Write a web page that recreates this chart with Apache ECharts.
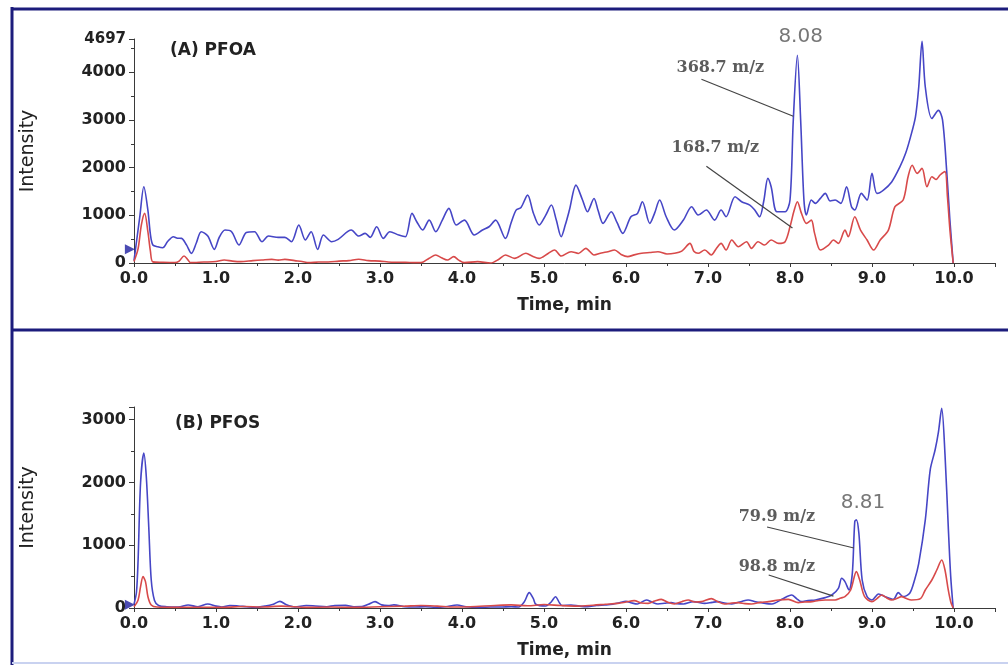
<!DOCTYPE html>
<html>
<head>
<meta charset="utf-8">
<title>PFOA / PFOS chromatograms</title>
<script src="https://cdn.jsdelivr.net/npm/echarts@6/dist/echarts.min.js"></script>
<style>
  html, body { margin: 0; padding: 0; background: #fff; }
  #chart { width: 1008px; height: 665px; }
</style>
</head>
<body>
<div id="chart"></div>
<script>
// 数据：时间 (min) 与强度

// (A) PFOA 368.7 m/z（蓝）
const pfoa3687 = [
  [0.00, 50], [0.07, 960], [0.12, 1600], [0.17, 1100], [0.20, 600], [0.23, 377], [0.29, 340],
  [0.35, 320], [0.41, 450], [0.48, 551], [0.53, 520], [0.58, 516], [0.64, 380], [0.70, 202],
  [0.76, 420], [0.82, 656], [0.90, 565], [0.98, 286], [1.04, 540], [1.11, 691], [1.19, 656],
  [1.28, 377], [1.37, 640], [1.47, 656], [1.56, 447], [1.64, 565], [1.76, 537], [1.84, 537],
  [1.92, 447], [2.01, 796], [2.09, 482], [2.16, 656], [2.24, 286], [2.31, 586], [2.41, 447],
  [2.49, 496], [2.65, 691], [2.74, 565], [2.82, 621], [2.88, 537], [2.96, 761], [3.04, 516],
  [3.12, 656], [3.23, 586], [3.31, 551], [3.39, 1040], [3.45, 860], [3.52, 691], [3.60, 900],
  [3.68, 656], [3.76, 900], [3.84, 1145], [3.93, 796], [4.03, 900], [4.15, 586], [4.25, 691],
  [4.33, 760], [4.41, 900], [4.53, 516], [4.60, 850], [4.66, 1110], [4.72, 1166], [4.80, 1424],
  [4.87, 1050], [4.94, 796], [5.02, 1000], [5.09, 1215], [5.15, 900], [5.21, 551], [5.26, 800],
  [5.31, 1110], [5.39, 1633], [5.47, 1320], [5.53, 1075], [5.61, 1354], [5.66, 1100], [5.72, 831],
  [5.82, 1075], [5.89, 850], [5.96, 621], [6.06, 970], [6.14, 1040], [6.20, 1285], [6.29, 831],
  [6.35, 1050], [6.41, 1320], [6.49, 970], [6.59, 691], [6.70, 900], [6.80, 1180], [6.88, 1005],
  [6.98, 1110], [7.08, 900], [7.16, 1110], [7.22, 970], [7.33, 1390], [7.41, 1285], [7.51, 1215],
  [7.57, 1110], [7.63, 970], [7.68, 1300], [7.73, 1775], [7.77, 1600], [7.84, 1075], [7.94, 1075],
  [8.00, 1320], [8.04, 2995], [8.09, 4355], [8.13, 2995], [8.17, 1320], [8.20, 1005], [8.26, 1320],
  [8.31, 1250], [8.37, 1355], [8.43, 1460], [8.49, 1300], [8.55, 1320], [8.62, 1250], [8.69, 1600],
  [8.75, 1180], [8.79, 1110], [8.87, 1460], [8.94, 1320], [9.00, 1880], [9.06, 1460], [9.14, 1530],
  [9.24, 1700], [9.34, 2015], [9.41, 2300], [9.47, 2645], [9.53, 3065], [9.57, 3690], [9.61, 4650],
  [9.65, 3690], [9.73, 3030], [9.81, 3200], [9.86, 3000], [9.91, 1950], [9.95, 900], [9.99, 0]
];

// (A) PFOA 168.7 m/z（红）
const pfoa1687 = [
  [0.00, 30], [0.05, 300], [0.09, 800], [0.13, 1040], [0.17, 650], [0.20, 250], [0.23, 23],
  [0.35, 15], [0.50, 10], [0.55, 40], [0.61, 146], [0.66, 60], [0.69, 7], [0.85, 20], [1.00, 30],
  [1.10, 63], [1.20, 40], [1.30, 28], [1.45, 50], [1.56, 63], [1.68, 77], [1.76, 60], [1.84, 77],
  [1.96, 49], [2.05, 30], [2.13, 7], [2.25, 20], [2.37, 21], [2.50, 40], [2.62, 50], [2.74, 80],
  [2.86, 49], [3.00, 40], [3.10, 21], [3.20, 15], [3.31, 14], [3.43, 7], [3.50, 7], [3.60, 100],
  [3.68, 168], [3.75, 110], [3.82, 63], [3.90, 133], [3.96, 60], [4.03, 7], [4.19, 28], [4.35, 0],
  [4.45, 80], [4.53, 168], [4.64, 98], [4.78, 203], [4.86, 140], [4.94, 98], [5.05, 200],
  [5.13, 272], [5.21, 147], [5.33, 237], [5.42, 200], [5.51, 307], [5.61, 168], [5.70, 210],
  [5.78, 237], [5.86, 272], [5.94, 180], [6.02, 133], [6.10, 170], [6.19, 203], [6.29, 220],
  [6.39, 237], [6.50, 190], [6.59, 203], [6.68, 250], [6.78, 412], [6.83, 240], [6.88, 203],
  [6.96, 272], [7.04, 168], [7.10, 300], [7.16, 412], [7.22, 272], [7.29, 482], [7.37, 342],
  [7.47, 447], [7.53, 307], [7.61, 447], [7.69, 377], [7.77, 482], [7.86, 412], [7.94, 447],
  [8.00, 760], [8.05, 1100], [8.09, 1285], [8.14, 1040], [8.20, 830], [8.26, 900], [8.30, 621],
  [8.37, 272], [8.47, 377], [8.53, 482], [8.59, 412], [8.67, 690], [8.71, 551], [8.79, 970],
  [8.86, 690], [8.94, 482], [9.02, 272], [9.10, 482], [9.20, 690], [9.28, 1180], [9.38, 1320],
  [9.44, 1810], [9.49, 2050], [9.55, 1880], [9.61, 1985], [9.67, 1600], [9.73, 1810], [9.78, 1750],
  [9.83, 1845], [9.89, 1915], [9.92, 1390], [9.95, 700], [9.99, 0]
];

// (B) PFOS 79.9 m/z（蓝）
const pfos799 = [
  [0.00, 60], [0.03, 250], [0.05, 765], [0.08, 1990], [0.12, 2465], [0.15, 2090], [0.18, 1290],
  [0.21, 450], [0.25, 120], [0.30, 40], [0.40, 20], [0.54, 16], [0.66, 48], [0.78, 20], [0.90, 64],
  [1.00, 30], [1.07, 16], [1.17, 40], [1.27, 32], [1.37, 20], [1.47, 10], [1.60, 30], [1.70, 60],
  [1.78, 106], [1.86, 50], [1.96, 16], [2.10, 40], [2.21, 32], [2.35, 20], [2.45, 40], [2.58, 42],
  [2.68, 20], [2.78, 22], [2.86, 60], [2.94, 101], [3.02, 50], [3.10, 40], [3.17, 50], [3.30, 20],
  [3.43, 16], [3.55, 20], [3.68, 10], [3.80, 20], [3.94, 48], [4.05, 20], [4.20, 10], [4.35, 15],
  [4.49, 16], [4.60, 20], [4.69, 16], [4.76, 100], [4.82, 244], [4.87, 150], [4.90, 60], [5.02, 32],
  [5.09, 100], [5.14, 180], [5.19, 80], [5.22, 40], [5.33, 48], [5.43, 30], [5.53, 21], [5.64, 40],
  [5.74, 48], [5.84, 60], [5.92, 85], [6.00, 106], [6.07, 80], [6.14, 64], [6.25, 128], [6.32, 90],
  [6.39, 64], [6.47, 75], [6.55, 85], [6.62, 70], [6.70, 64], [6.82, 101], [6.96, 74], [7.05, 90],
  [7.12, 101], [7.20, 80], [7.29, 64], [7.40, 100], [7.49, 128], [7.58, 100], [7.65, 85], [7.78, 64],
  [7.90, 138], [8.02, 207], [8.08, 150], [8.14, 101], [8.22, 120], [8.31, 128], [8.43, 165],
  [8.51, 207], [8.59, 313], [8.63, 473], [8.67, 420], [8.72, 287], [8.76, 552], [8.79, 1376],
  [8.81, 1403], [8.84, 1190], [8.88, 446], [8.94, 181], [9.00, 128], [9.08, 223], [9.16, 181],
  [9.26, 138], [9.32, 244], [9.38, 181], [9.46, 234], [9.52, 450], [9.57, 712], [9.65, 1403],
  [9.71, 2200], [9.77, 2519], [9.81, 2800], [9.85, 3180], [9.89, 2450], [9.93, 1296], [9.96, 500],
  [9.99, 0]
];

// (B) PFOS 98.8 m/z（红）
const pfos988 = [
  [0.00, 20], [0.05, 128], [0.08, 340], [0.11, 499], [0.14, 420], [0.17, 180], [0.21, 48],
  [0.28, 15], [0.50, 10], [0.80, 12], [1.10, 10], [1.35, 25], [1.55, 15], [1.80, 30], [2.10, 10],
  [2.40, 15], [2.70, 10], [3.00, 20], [3.30, 30], [3.50, 40], [3.70, 30], [3.90, 15], [4.10, 20],
  [4.40, 40], [4.60, 50], [4.80, 35], [5.00, 55], [5.20, 40], [5.40, 30], [5.60, 45], [5.75, 60],
  [5.90, 74], [6.00, 95], [6.10, 117], [6.19, 80], [6.27, 74], [6.35, 110], [6.43, 138], [6.51, 90],
  [6.59, 64], [6.68, 100], [6.76, 128], [6.84, 95], [6.92, 101], [7.04, 149], [7.12, 100],
  [7.20, 64], [7.29, 80], [7.37, 85], [7.45, 70], [7.53, 64], [7.64, 90], [7.74, 101], [7.86, 128],
  [7.98, 138], [8.10, 85], [8.18, 95], [8.27, 101], [8.35, 120], [8.43, 128], [8.55, 128],
  [8.62, 160], [8.67, 181], [8.74, 287], [8.81, 579], [8.85, 446], [8.91, 181], [9.00, 101],
  [9.06, 150], [9.12, 207], [9.18, 160], [9.24, 128], [9.30, 150], [9.36, 181], [9.42, 150],
  [9.48, 128], [9.59, 149], [9.65, 287], [9.73, 446], [9.79, 605], [9.85, 765], [9.89, 605],
  [9.93, 287], [9.96, 100], [9.99, 0]
];

// 标注文字 [时间, 强度, 文本]，第一项是保留时间
const pfoaNotes = [[8.13, 4733, '8.08'], [7.15, 4083, '368.7 m/z'], [7.09, 2408, '168.7 m/z']];
const pfosNotes = [[8.89, 1674, '8.81'], [7.84, 1450, '79.9 m/z'], [7.84, 654, '98.8 m/z']];

// 引线 [起点, 终点]
const pfoaLeaders = [[[6.92, 3853], [8.04, 3078]], [[6.98, 2031], [8.03, 733]]];
const pfosLeaders = [[[7.72, 1290], [8.78, 955]], [[7.74, 525], [8.53, 190]]];

// 纵轴左侧的蓝色小三角
const pfoaArrow = [[-0.05, 290]];
const pfosArrow = [[-0.05, 50]];

// 样式
const BLUE = '#4646c6';
const RED = '#d84a4a';
const FRAME = '#1c1c7c';
const AXIS = '#3a3a3a';
const TICK_FONT = { fontFamily: 'DejaVu Sans', fontWeight: 'bold', fontSize: 16, color: '#222' };
const RT_LABEL = { fontFamily: 'DejaVu Sans', fontWeight: 'normal', fontSize: 20, color: '#555' };

function xAxisFor(gridIndex) {
  return {
    type: 'value',
    gridIndex,
    min: 0,
    max: 10.5,
    interval: 1,
    name: 'Time, min',
    nameLocation: 'middle',
    nameGap: 34,
    nameTextStyle: { fontFamily: 'DejaVu Sans', fontWeight: 'bold', fontSize: 17, color: '#222' },
    axisLine: { lineStyle: { color: AXIS, width: 1 } },
    axisTick: { length: 4, lineStyle: { color: AXIS } },
    minorTick: { show: true, splitNumber: 2, length: 3, lineStyle: { color: AXIS } },
    splitLine: { show: false },
    axisLabel: Object.assign({ margin: 8, showMaxLabel: false, formatter: v => v.toFixed(1) }, TICK_FONT)
  };
}

function yAxisFor(gridIndex, max, showMax) {
  return {
    type: 'value',
    gridIndex,
    min: 0,
    max,
    interval: 1000,
    name: 'Intensity',
    nameLocation: 'middle',
    nameGap: 96,
    nameTextStyle: { fontFamily: 'DejaVu Sans', fontSize: 19, color: '#222' },
    axisLine: { show: true, lineStyle: { color: AXIS, width: 1 } },
    axisTick: { show: true, length: 5, lineStyle: { color: AXIS } },
    minorTick: { show: true, splitNumber: 2, length: 3, lineStyle: { color: AXIS } },
    splitLine: { show: false },
    axisLabel: Object.assign({
      margin: 8,
      showMaxLabel: showMax,
      formatter: v => (v === max ? '{s|' + v + '}' : String(v)),
      rich: { s: { fontFamily: 'DejaVu Sans', fontWeight: 'bold', fontSize: 15, color: '#222' } }
    }, TICK_FONT)
  };
}

function traceSeries(data, color, axisIndex) {
  return {
    type: 'line',
    data,
    xAxisIndex: axisIndex,
    yAxisIndex: axisIndex,
    showSymbol: false,
    smooth: 0.3,
    lineStyle: { color, width: 1.6 },
    silent: true,
    z: color === BLUE ? 3 : 4
  };
}

function notesSeries(notes, leaders, axisIndex) {
  return {
    type: 'scatter',
    // 第一项（保留时间）用无衬线体
    data: notes.map((n, i) => (i === 0 ? { value: n, label: RT_LABEL } : { value: n })),
    xAxisIndex: axisIndex,
    yAxisIndex: axisIndex,
    symbolSize: 0,
    clip: false,
    silent: true,
    label: {
      show: true,
      position: 'inside',
      formatter: p => p.value[2],
      fontFamily: 'DejaVu Serif',
      fontWeight: 'bold',
      fontSize: 16,
      color: '#333'
    },
    markLine: {
      silent: true,
      symbol: 'none',
      label: { show: false },
      lineStyle: { color: '#444', width: 1.2, type: 'solid' },
      data: leaders.map(seg => [{ coord: seg[0] }, { coord: seg[1] }])
    },
    z: 6
  };
}

function arrowSeries(data, axisIndex) {
  return {
    type: 'scatter',
    data,
    xAxisIndex: axisIndex,
    yAxisIndex: axisIndex,
    symbol: 'triangle',
    symbolRotate: -90,
    symbolSize: 10,
    clip: false,
    silent: true,
    itemStyle: { color: '#1e1ea0' },
    z: 7
  };
}

const chart = echarts.init(document.getElementById('chart'), null, { renderer: 'canvas' });

chart.setOption({
  backgroundColor: '#ffffff',
  animation: false,
  title: [
    { text: '(A) PFOA', left: 165, top: 37,
      textStyle: { fontFamily: 'DejaVu Sans', fontWeight: 'bold', fontSize: 17, color: '#222' } },
    { text: '(B) PFOS', left: 170, top: 410,
      textStyle: { fontFamily: 'DejaVu Sans', fontWeight: 'bold', fontSize: 17, color: '#222' } }
  ],
  grid: [
    { left: 134, right: 13, top: 39, height: 224 },
    { left: 134, right: 13, top: 407, height: 201 }
  ],
  xAxis: [xAxisFor(0), xAxisFor(1)],
  yAxis: [yAxisFor(0, 4697, true), yAxisFor(1, 3200, false)],
  series: [
    traceSeries(pfoa3687, BLUE, 0),
    traceSeries(pfoa1687, RED, 0),
    notesSeries(pfoaNotes, pfoaLeaders, 0),
    arrowSeries(pfoaArrow, 0),
    traceSeries(pfos799, BLUE, 1),
    traceSeries(pfos988, RED, 1),
    notesSeries(pfosNotes, pfosLeaders, 1),
    arrowSeries(pfosArrow, 1)
  ],
  graphic: [
    // 外框
    { type: 'line', shape: { x1: 12, y1: 7, x2: 12, y2: 665 }, style: { stroke: FRAME, lineWidth: 3 } },
    { type: 'line', shape: { x1: 11, y1: 9, x2: 1008, y2: 9 }, style: { stroke: FRAME, lineWidth: 3 } },
    { type: 'line', shape: { x1: 11, y1: 330, x2: 1008, y2: 330 }, style: { stroke: FRAME, lineWidth: 3 } },
    { type: 'line', shape: { x1: 12, y1: 663, x2: 1008, y2: 663 }, style: { stroke: '#c9d2f0', lineWidth: 2 } }
  ]
});
</script>
</body>
</html>
